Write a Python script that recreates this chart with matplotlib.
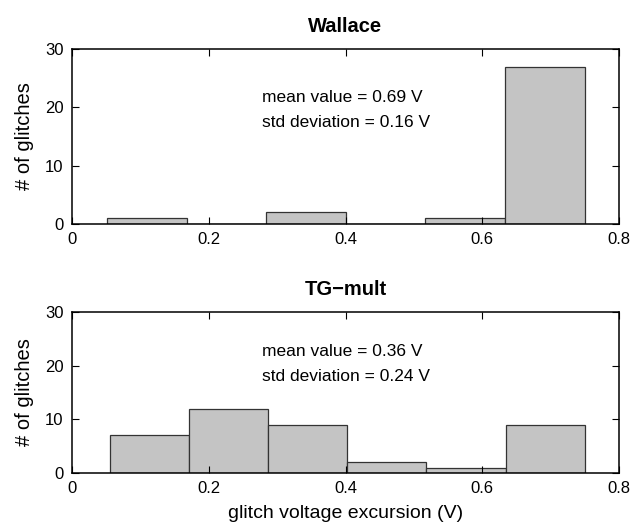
import matplotlib
matplotlib.use("Agg")
import matplotlib.pyplot as plt
import numpy as np

plt.rcParams['font.family'] = ['Liberation Sans', 'DejaVu Sans']

# Data
titles = ["Wallace", "TG\u2212mult"]
wallace_edges = [0.051, 0.1675, 0.284, 0.4005, 0.517, 0.6335, 0.750]
wallace_counts = [1, 0, 2, 0, 1, 27]
tg_edges = [0.055, 0.1708, 0.2866, 0.4025, 0.5183, 0.6342, 0.750]
tg_counts = [7, 12, 9, 2, 1, 9]
mean_text = ["mean value = 0.69 V", "mean value = 0.36 V"]
std_text = ["std deviation = 0.16 V", "std deviation = 0.24 V"]
xticks = [0, 0.2, 0.4, 0.6, 0.8]
xticklabels = ["0", "0.2", "0.4", "0.6", "0.8"]
yticks = [0, 10, 20, 30]

fig = plt.figure(figsize=(6.33, 5.28), dpi=100)
W, H = 633, 528
axes_px = [(72, 49, 619, 224), (72, 312, 619, 473)]
text_y = [(21.7, 17.4), (22.7, 17.9)]

for i, (edges, counts) in enumerate([(wallace_edges, wallace_counts), (tg_edges, tg_counts)]):
    l, t, r, b = axes_px[i]
    ax = fig.add_axes([l / W, 1 - b / H, (r - l) / W, (b - t) / H])
    e = np.array(edges)
    ax.bar(e[:-1], counts, width=np.diff(e), align='edge', color='#c4c4c4',
           edgecolor='#333333', linewidth=0.9)
    ax.set_xlim(0, 0.8)
    ax.set_ylim(0, 30)
    ax.set_xticks(xticks)
    ax.set_xticklabels(xticklabels)
    ax.set_yticks(yticks)
    ax.tick_params(direction='in', top=True, right=True, labelsize=12, length=5,
                   width=0.8, pad=6)
    for s in ax.spines.values():
        s.set_linewidth(1.1)
    ax.set_title(titles[i], fontsize=14.5, fontweight='bold', pad=12)
    ax.set_ylabel("# of glitches", fontsize=14.5, labelpad=8)
    ax.text(0.278, text_y[i][0], mean_text[i], fontsize=12.5, va='center')
    ax.text(0.278, text_y[i][1], std_text[i], fontsize=12.5, va='center')
    if i == 1:
        ax.set_xlabel("glitch voltage excursion (V)", fontsize=14, labelpad=6)

fig.savefig("out.png", dpi=100)
